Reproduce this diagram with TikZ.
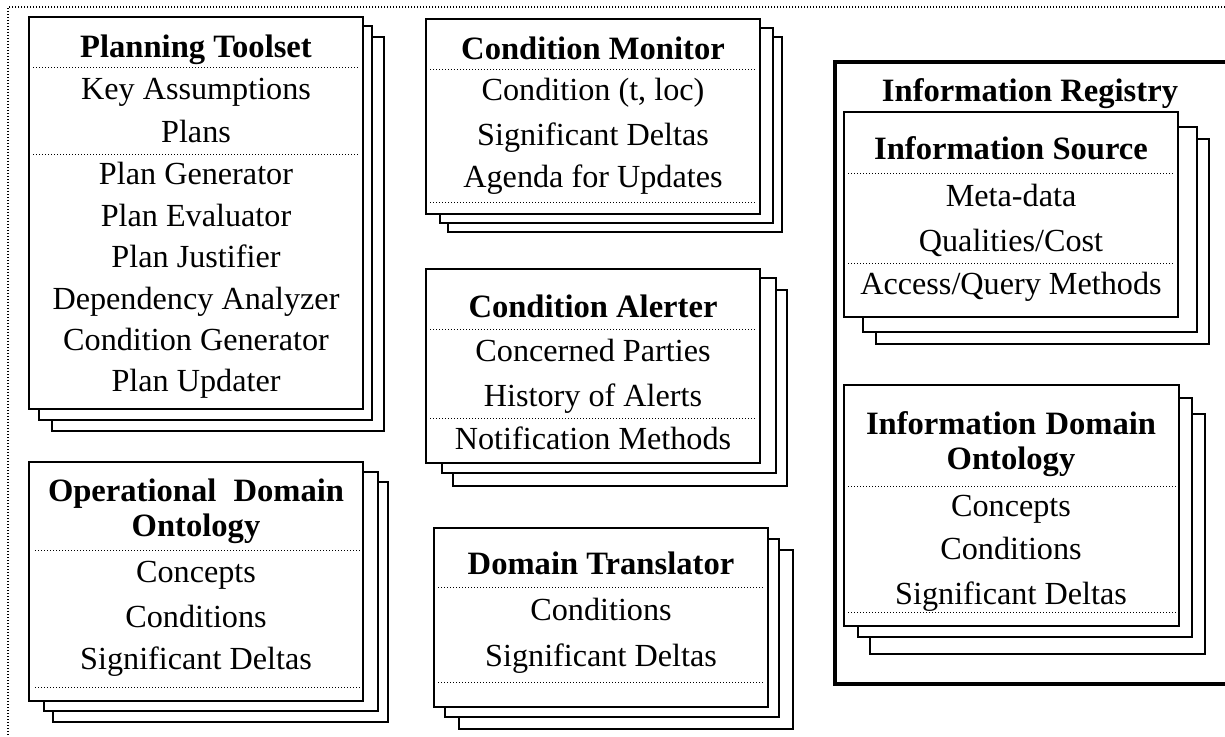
\documentclass[tikz,border=0pt]{standalone}
\usepackage{fontspec}
\setmainfont{Liberation Serif}
\usetikzlibrary{positioning}

\begin{document}
\begin{tikzpicture}[x=0.5pt, y=-0.5pt, font=\fontsize{16.1}{19}\selectfont,
    layer/.style={draw, fill=white, line width=0.9pt},
    sep/.style={line width=0.5pt, dash pattern=on 0.5pt off 1pt},
    frame/.style={line width=0.7pt, dash pattern=on 0.7pt off 0.8pt},
    item/.style={inner sep=0pt, text height=0.8em, text depth=0.15em, yshift=-1.5pt},
    title/.style={item, font=\fontsize{16.3}{19}\selectfont\bfseries}]
    \useasboundingbox (0,0) rectangle (1225,736);

    % Outer dotted frame (top and left)
    \draw[frame] (1225,7) -- (8,7) -- (8,736);

    % Planning Toolset
    \draw[layer] (52,37) rectangle (384,431);
    \draw[layer] (39,26) rectangle (372,420);
    \draw[layer] (29,17) rectangle (363,409);
    \node[title] (pt) at (196,48) {Planning Toolset};
    \draw[sep] (33,67) -- (360,67);
    \node[item] (pt-keys) at (196,90) {Key Assumptions};
    \node[item] (pt-plans) at (196,133) {Plans};
    \draw[sep] (33,154) -- (360,154);
    \node[item] (pt-gen) at (196,175) {Plan Generator};
    \node[item] (pt-eval) at (196,217) {Plan Evaluator};
    \node[item] (pt-just) at (196,258) {Plan Justifier};
    \node[item] (pt-dep) at (196,300) {Dependency Analyzer};
    \node[item] (pt-cond) at (196,341) {Condition Generator};
    \node[item] (pt-upd) at (196,382) {Plan Updater};

    % Operational Domain Ontology
    \draw[layer] (53,482) rectangle (388,722);
    \draw[layer] (44,472) rectangle (378,711);
    \draw[layer] (29,462) rectangle (363,701);
    \node[title] (odo) at (196,492) {\makebox[148pt][s]{Operational Domain}};
    \node[title] (odo-2) at (196,527) {Ontology};
    \draw[sep] (35,550) -- (360,550);
    \node[item] (odo-conc) at (196,573) {Concepts};
    \node[item] (odo-cond) at (196,618) {Conditions};
    \node[item] (odo-delta) at (196,660) {Significant Deltas};
    \draw[sep] (35,687) -- (360,687);

    % Condition Monitor
    \draw[layer] (448,37) rectangle (782,232);
    \draw[layer] (440,28) rectangle (773,223);
    \draw[layer] (426,19) rectangle (760,214);
    \node[title] (cm) at (593,50) {Condition Monitor};
    \draw[sep] (430,69) -- (757,69);
    \node[item] (cm-cond) at (593,91) {Condition (t, loc)};
    \node[item] (cm-delta) at (593,136) {Significant Deltas};
    \node[item] (cm-agenda) at (593,178) {Agenda for Updates};
    \draw[sep] (430,202) -- (757,202);

    % Condition Alerter
    \draw[layer] (453,290) rectangle (787,486);
    \draw[layer] (442,278) rectangle (776,473);
    \draw[layer] (426,269) rectangle (760,463);
    \node[title] (ca) at (593,308) {Condition Alerter};
    \draw[sep] (430,329) -- (757,329);
    \node[item] (ca-parties) at (593,352) {Concerned Parties};
    \node[item] (ca-hist) at (593,397) {History of Alerts};
    \draw[sep] (430,418) -- (757,418);
    \node[item] (ca-notif) at (593,440) {Notification Methods};

    % Domain Translator
    \draw[layer] (459,550) rectangle (793,729);
    \draw[layer] (445,539) rectangle (779,717);
    \draw[layer] (434,528) rectangle (768,707);
    \node[title] (dt) at (601,565) {Domain Translator};
    \draw[sep] (438,587) -- (765,587);
    \node[item] (dt-cond) at (601,611) {Conditions};
    \node[item] (dt-delta) at (601,657) {Significant Deltas};
    \draw[sep] (438,682) -- (765,682);

    % Information Registry (open to the right)
    \draw[line width=2.2pt] (1240,62) -- (835,62) -- (835,684) -- (1240,684);
    \node[title] (ir) at (1030,92) {Information Registry};

    % Information Source
    \draw[layer] (876,139) rectangle (1209,344);
    \draw[layer] (863,127) rectangle (1197,332);
    \draw[layer] (844,112) rectangle (1178,317);
    \node[title] (is) at (1011,150) {Information Source};
    \draw[sep] (848,173) -- (1175,173);
    \node[item] (is-meta) at (1011,197) {Meta-data};
    \node[item] (is-qual) at (1011,242) {Qualities/Cost};
    \draw[sep] (848,263) -- (1175,263);
    \node[item] (is-access) at (1011,285) {Access/Query Methods};

    % Information Domain Ontology
    \draw[layer] (870,414) rectangle (1205,654);
    \draw[layer] (858,398) rectangle (1192,637);
    \draw[layer] (844,385) rectangle (1179,626);
    \node[title] (ido) at (1011,425) {\makebox[145pt][s]{Information Domain}};
    \node[title] (ido-2) at (1011,460) {Ontology};
    \draw[sep] (848,486) -- (1176,486);
    \node[item] (ido-conc) at (1011,507) {Concepts};
    \node[item] (ido-cond) at (1011,550) {Conditions};
    \node[item] (ido-delta) at (1011,595) {Significant Deltas};
    \draw[sep] (848,612) -- (1176,612);
\end{tikzpicture}
\end{document}
